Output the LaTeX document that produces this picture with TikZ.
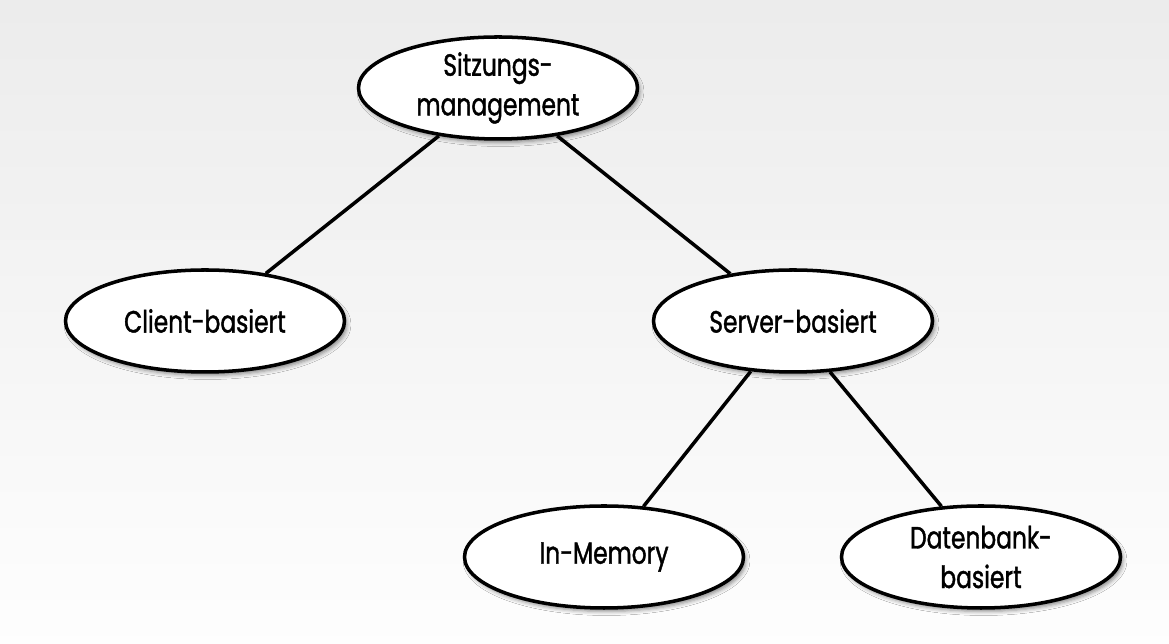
\documentclass[tikz,border=0pt]{standalone}
\usepackage{fontspec}
\setmainfont{Poppins}[FakeStretch=0.76,FakeBold=1.3]
\usetikzlibrary{shapes.geometric,shadows.blur}

\begin{document}
\begin{tikzpicture}
\tikzstyle{bubble}=[draw,shape=ellipse,fill=white,line width=2pt,minimum width=5.58cm,minimum height=2.04cm,inner sep=0pt,align=center,font=\fontsize{17.5}{22.5}\selectfont,blur shadow={shadow xshift=0.05cm,shadow yshift=-0.07cm,shadow blur radius=0.08cm,shadow opacity=45}]
\useasboundingbox (0,0) rectangle (23.38,12.88);
\shade[top color=gray!15,bottom color=gray!1] (0,0) rectangle (23.38,12.88);

\path (9.96,11.12) node[bubble](root){Sitzungs-\\management}
(4.10,6.46) node[bubble](client){Client-basiert}
(15.86,6.46) node[bubble](server){Server-basiert}
(12.08,1.74) node[bubble](mem){In-Memory}
(19.62,1.74) node[bubble](db){Datenbank-\\basiert};

\draw[line width=2pt] (root.219) -- (client.38);
\draw[line width=2pt] (root.321) -- (server.143);
\draw[line width=2pt] (server.230) -- (mem.52);
\draw[line width=2pt] (server.306) -- (db.128);
\end{tikzpicture}
\end{document}
